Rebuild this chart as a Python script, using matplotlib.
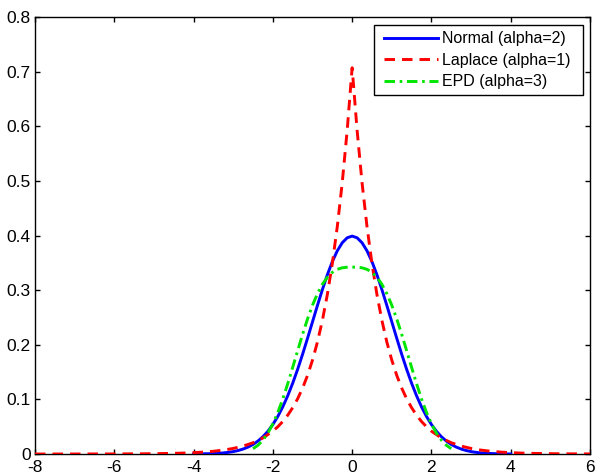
import numpy as np
import matplotlib
matplotlib.use("Agg")
import matplotlib.pyplot as plt
from matplotlib.patches import Rectangle

plt.rcParams['font.family'] = ['Liberation Sans', 'DejaVu Sans']

# x grids
x_laplace = np.concatenate([np.arange(-8.0, -2.0, 0.25),
                            np.arange(-2.0, 2.0001, 0.125),
                            np.arange(2.25, 6.0001, 0.25)])
x_normal = np.arange(-4.0, 4.0001, 0.125)
x_epd = np.arange(-2.5, 2.5001, 0.125)

y_laplace = [0.0000, 0.0000, 0.0000, 0.0000, 0.0000, 0.0001, 0.0001, 0.0001,
             0.0001, 0.0002, 0.0003, 0.0004, 0.0006, 0.0009, 0.0012, 0.0017,
             0.0025, 0.0035, 0.0050, 0.0071, 0.0102, 0.0145, 0.0206, 0.0294,
             0.0418, 0.0499, 0.0595, 0.0710, 0.0848, 0.1011, 0.1207, 0.1440,
             0.1719, 0.2051, 0.2448, 0.2922, 0.3487, 0.4161, 0.4965, 0.5926,
             0.7071,
             0.5926, 0.4965, 0.4161, 0.3487, 0.2922, 0.2448, 0.2051, 0.1719,
             0.1440, 0.1207, 0.1011, 0.0848, 0.0710, 0.0595, 0.0499, 0.0418,
             0.0294, 0.0206, 0.0145, 0.0102, 0.0071, 0.0050, 0.0035, 0.0025,
             0.0017, 0.0012, 0.0009, 0.0006, 0.0004, 0.0003, 0.0002, 0.0001]

y_normal = [0.0001, 0.0002, 0.0004, 0.0006, 0.0009, 0.0013, 0.0020, 0.0030,
            0.0044, 0.0064, 0.0091, 0.0127, 0.0175, 0.0238, 0.0317, 0.0417,
            0.0540, 0.0688, 0.0863, 0.1066, 0.1295, 0.1550, 0.1826, 0.2119,
            0.2420, 0.2720, 0.3011, 0.3282, 0.3521, 0.3719, 0.3867, 0.3958,
            0.3989,
            0.3958, 0.3867, 0.3719, 0.3521, 0.3282, 0.3011, 0.2720, 0.2420,
            0.2119, 0.1826, 0.1550, 0.1295, 0.1066, 0.0863, 0.0688, 0.0540,
            0.0417, 0.0317, 0.0238, 0.0175, 0.0127, 0.0091, 0.0064, 0.0044,
            0.0030, 0.0020, 0.0013, 0.0009, 0.0006, 0.0004, 0.0002, 0.0001]

y_epd = [0.0097, 0.0161, 0.0255, 0.0383, 0.0552, 0.0761, 0.1008, 0.1286,
         0.1585, 0.1891, 0.2191, 0.2473, 0.2724, 0.2936, 0.3107, 0.3236,
         0.3325, 0.3380, 0.3409, 0.3419, 0.3421, 0.3419, 0.3409, 0.3380,
         0.3325, 0.3236, 0.3107, 0.2936, 0.2724, 0.2473, 0.2191, 0.1891,
         0.1585, 0.1286, 0.1008, 0.0761, 0.0552, 0.0383, 0.0255, 0.0161,
         0.0097]

labels = ['Normal (alpha=2)', 'Laplace (alpha=1)', 'EPD (alpha=3)']
x_ticks = [-8, -6, -4, -2, 0, 2, 4, 6]
y_ticks = [0, 0.1, 0.2, 0.3, 0.4, 0.5, 0.6, 0.7, 0.8]
y_ticklabels = ['0', '0.1', '0.2', '0.3', '0.4', '0.5', '0.6', '0.7', '0.8']

W, H = 596, 475
fig = plt.figure(figsize=(W / 100, H / 100), dpi=100)
ax = fig.add_axes([35 / W, 1 - 454 / H, 555 / W, 437 / H])

lw = 2.1
ax.plot(x_normal, y_normal, color='#0000ff', lw=lw, linestyle='-', label=labels[0], zorder=3)
ax.plot(x_laplace, y_laplace, color='#ff0000', lw=lw, linestyle=(0, (3.6, 2.4)), label=labels[1], zorder=3)
ax.plot(x_epd, y_epd, color='#00e600', lw=lw, linestyle=(0, (3.6, 1.6, 0.9, 1.6)), label=labels[2], zorder=3)

ax.set_xlim(-8, 6)
ax.set_ylim(0, 0.8)
ax.set_xticks(x_ticks)
ax.set_yticks(y_ticks)
ax.set_xticklabels([str(t) for t in x_ticks])
ax.set_yticklabels(y_ticklabels)
ax.tick_params(direction='in', length=3.8, width=1, top=True, right=True,
               labelsize=12.5)
ax.tick_params(axis='x', pad=4)
ax.tick_params(axis='y', pad=3)
for s in ax.spines.values():
    s.set_linewidth(1.0)
    s.set_zorder(2)

# legend box (square, black edge)
box = Rectangle((374 / W, 1 - 95 / H), 209 / W, 70 / H, transform=fig.transFigure,
                facecolor='white', edgecolor='black', linewidth=1.0, zorder=4,
                clip_on=False)
ax.add_patch(box)
leg = ax.legend(loc='upper left', bbox_to_anchor=(384 / W, 1 - 31.5 / H),
                bbox_transform=fig.transFigure, fontsize=11.5, frameon=False,
                handlelength=3.4, borderpad=0, labelspacing=0.4,
                handletextpad=0.2, borderaxespad=0)
leg.set_zorder(5)

fig.savefig('out.png', dpi=100)
